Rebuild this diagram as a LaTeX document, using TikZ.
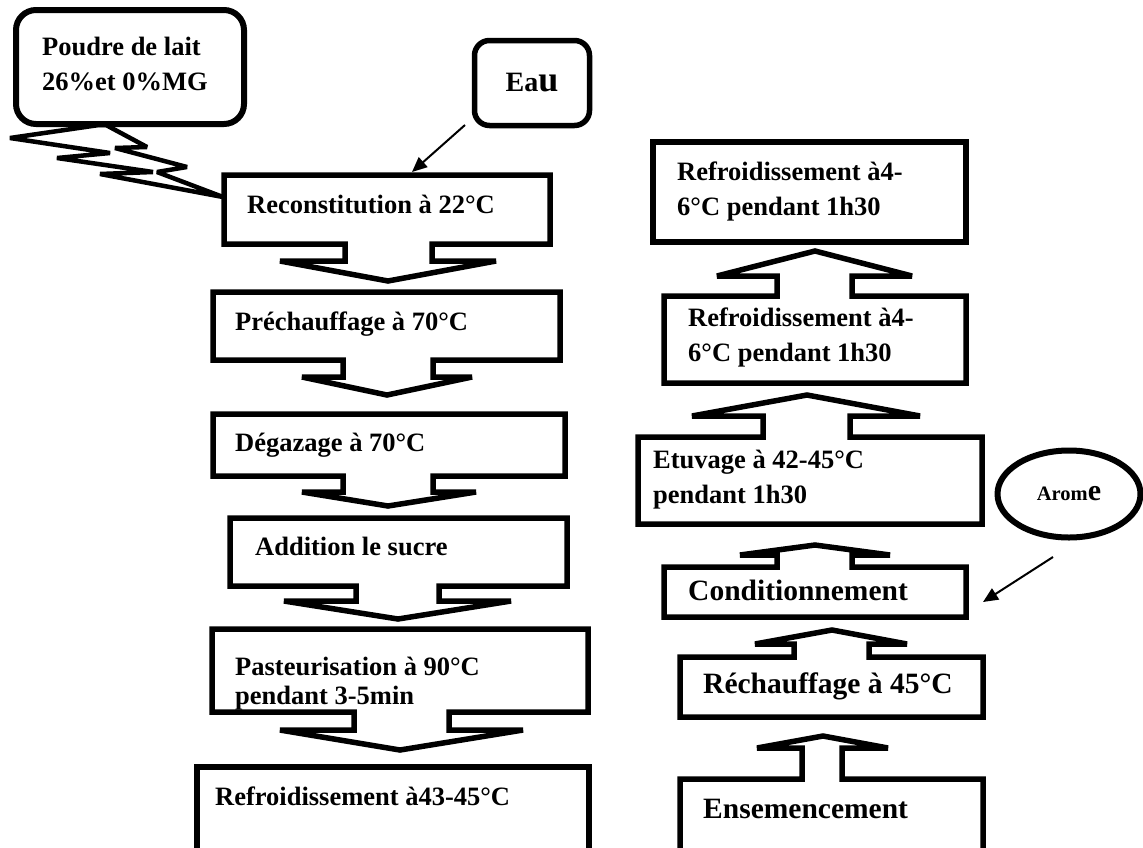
\documentclass[tikz,border=0pt]{standalone}
\usepackage{fontspec}
\setmainfont{Liberation Serif}
\usetikzlibrary{arrows.meta,shapes.geometric}
\begin{document}
\begin{tikzpicture}[x=1pt,y=-1pt,
  shp/.style={draw=black, fill=white, line width=5.5pt, line join=miter, miter limit=3},
  boltshape/.style={draw=black, fill=white, line width=4.5pt, line join=miter, miter limit=3},
  lbl/.style={anchor=base west, inner sep=0pt, font=\fontsize{26.5}{35}\selectfont\bfseries},
  lblbig/.style={anchor=base west, inner sep=0pt, font=\fontsize{29.5}{35}\selectfont\bfseries},
  feed/.style={line width=2pt, -{Triangle[length=15pt,width=13pt]}},
]
\useasboundingbox (0,0) rectangle (1143,847);

% ---------- lightning callout (Poudre de lait) ----------
\draw[boltshape] (99,125) -- (10,138) -- (110,153) -- (57,158) -- (153,172) -- (100,174)
  -- (223,197) -- (157,172) -- (187,167) -- (115,148) -- (147,147) -- (106,125) -- cycle;
\draw[shp, line width=6pt, rounded corners=20pt] (16,10) rectangle (244,124);
\node[lbl] (poudre) at (42,55) {\begin{tabular}[t]{@{}l@{}}Poudre de lait\\26\%et 0\%MG\end{tabular}};

% ---------- Eau ----------
\node[draw, line width=5.5pt, rounded corners=15pt, minimum width=115pt, minimum height=85pt, inner sep=0pt]
  (eau) at (532,83) {{\fontsize{28}{35}\selectfont\bfseries Ea}{\fontsize{36}{35}\selectfont\bfseries u}};

% ---------- left column (down arrow callouts) ----------
\draw[shp] (224,175) -- (550,175) -- (550,244) -- (432,244) -- (432,261) -- (496,261) -- (388,281)
  -- (280,261) -- (345,261) -- (345,244) -- (224,244) -- cycle;
\draw[shp] (213,292) -- (560,292) -- (560,360) -- (433,360) -- (433,377) -- (472,377) -- (387,395)
  -- (302,377) -- (343,377) -- (343,360) -- (213,360) -- cycle;
\draw[shp] (213,414) -- (565,414) -- (565,476) -- (433,476) -- (433,492) -- (476,492) -- (388,506)
  -- (302,492) -- (343,492) -- (343,476) -- (213,476) -- cycle;
\draw[shp] (230,518) -- (567,518) -- (567,586) -- (439,586) -- (439,601) -- (511,601) -- (398,619)
  -- (284,601) -- (356,601) -- (356,586) -- (230,586) -- cycle;
\draw[shp] (212,629) -- (588,629) -- (588,712) -- (449,712) -- (449,730) -- (523,730) -- (400,750)
  -- (280,730) -- (354,730) -- (354,712) -- (212,712) -- cycle;
\draw[shp] (197,852) -- (197,767) -- (589,767) -- (589,852);

\node[lbl] (recon) at (247,213) {Reconstitution à 22°C};
\node[lbl] (prech) at (235,330) {Préchauffage à 70°C};
\node[lbl] (degaz) at (235,451) {Dégazage à 70°C};
\node[lbl] (addit) at (255,555) {Addition le sucre};
\node[lbl] (paste) at (235,675) {\fontsize{26.5}{29}\selectfont\begin{tabular}[t]{@{}l@{}}Pasteurisation à 90°C\\pendant 3-5min\end{tabular}};
\node[lbl] (refa) at (215,805) {Refroidissement à43-45°C};

% ---------- right column (up arrow callouts) ----------
\draw[shp] (653,142) rectangle (966,242);
\draw[shp] (664,383) -- (664,296) -- (777,296) -- (777,276) -- (717,276) -- (815,251)
  -- (912,276) -- (852,276) -- (852,296) -- (966,296) -- (966,383) -- cycle;
\draw[shp] (638,524) -- (638,437) -- (763,437) -- (763,416) -- (692,416) -- (807,395)
  -- (920,416) -- (850,416) -- (850,437) -- (982,437) -- (982,524) -- cycle;
\draw[shp] (664,617) -- (664,567) -- (777,567) -- (777,555) -- (740,555) -- (815,545)
  -- (890,555) -- (852,555) -- (852,567) -- (966,567) -- (966,617) -- cycle;
\draw[shp] (680,717) -- (680,657) -- (794,657) -- (794,644) -- (755,644) -- (832,630)
  -- (907,644) -- (869,644) -- (869,657) -- (983,657) -- (983,717) -- cycle;
\draw[shp] (680,852) -- (680,779) -- (802,779) -- (802,748) -- (757,748) -- (823,736)
  -- (888,748) -- (842,748) -- (842,779) -- (983,779) -- (983,852);

\node[lbl] (refb) at (677,180) {\begin{tabular}[t]{@{}l@{}}Refroidissement à4-\\6°C pendant 1h30\end{tabular}};
\node[lbl] (refc) at (688,326) {\begin{tabular}[t]{@{}l@{}}Refroidissement à4-\\6°C pendant 1h30\end{tabular}};
\node[lbl] (etuv) at (653,468) {\begin{tabular}[t]{@{}l@{}}Etuvage à 42-45°C\\pendant 1h30\end{tabular}};
\node[lblbig] (condi) at (688,600) {Conditionnement};
\node[lblbig] (recha) at (703,693) {Réchauffage à 45°C};
\node[lblbig] (ensem) at (703,818) {Ensemencement};

% ---------- Arome ----------
\node[draw, ellipse, line width=6pt, minimum width=143pt, minimum height=87pt, inner sep=0pt]
  (arome) at (1069,494) {{\fontsize{20.5}{30}\selectfont\bfseries Arom}{\fontsize{30}{30}\selectfont\bfseries e}};

% ---------- feed arrows ----------
\coordinate (eaufrom) at (465,125);
\coordinate (eauto) at (412,172);
\draw[feed] (eaufrom) -- (eauto);
\coordinate (aromefrom) at (1053,557);
\coordinate (aromeTo) at (983,602);
\draw[feed] (aromefrom) -- (aromeTo);
\end{tikzpicture}
\end{document}
